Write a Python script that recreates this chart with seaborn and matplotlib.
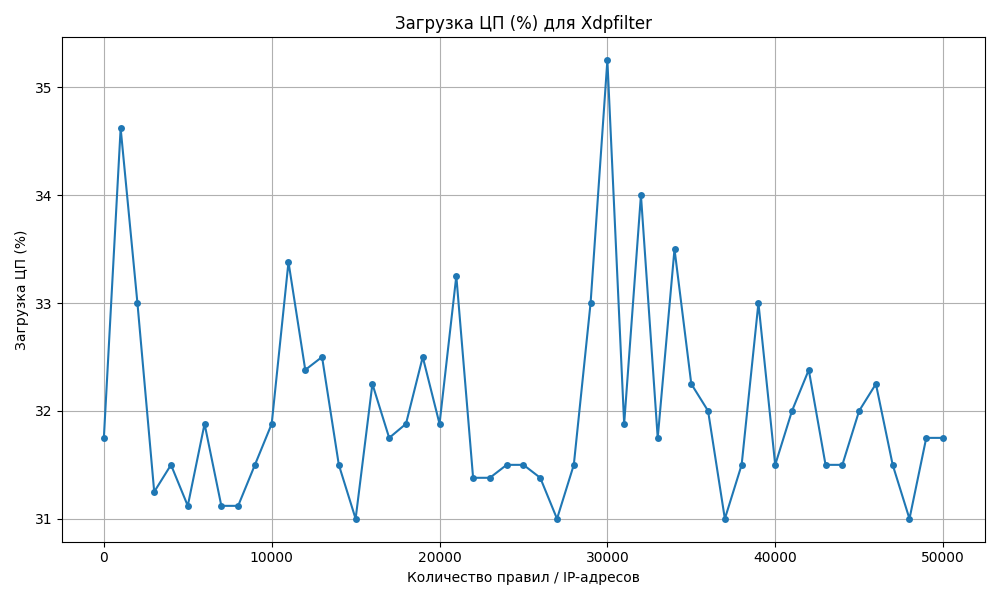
import seaborn as sns
import matplotlib.pyplot as plt
import pandas as pd

rules = list(range(0, 50001, 1000))
cpu = [31.75, 34.62, 33.0, 31.25, 31.5, 31.12, 31.88, 31.12, 31.12, 31.5,
       31.88, 33.38, 32.38, 32.5, 31.5, 31.0, 32.25, 31.75, 31.88, 32.5,
       31.88, 33.25, 31.38, 31.38, 31.5, 31.5, 31.38, 31.0, 31.5, 33.0,
       35.25, 31.88, 34.0, 31.75, 33.5, 32.25, 32.0, 31.0, 31.5, 33.0,
       31.5, 32.0, 32.38, 31.5, 31.5, 32.0, 32.25, 31.5, 31.0, 31.75, 31.75]

df = pd.DataFrame({'rules': rules, 'cpu': cpu})

fig, ax = plt.subplots(figsize=(10, 6), dpi=100)
sns.lineplot(x='rules', y='cpu', data=df, marker='o', markersize=5,
             markeredgewidth=0, color='#1f77b4', ax=ax)
ax.grid(True)
ax.set_title('Загрузка ЦП (%) для Xdpfilter')
ax.set_xlabel('Количество правил / IP-адресов')
ax.set_ylabel('Загрузка ЦП (%)')
plt.tight_layout()
plt.savefig('out.png')
